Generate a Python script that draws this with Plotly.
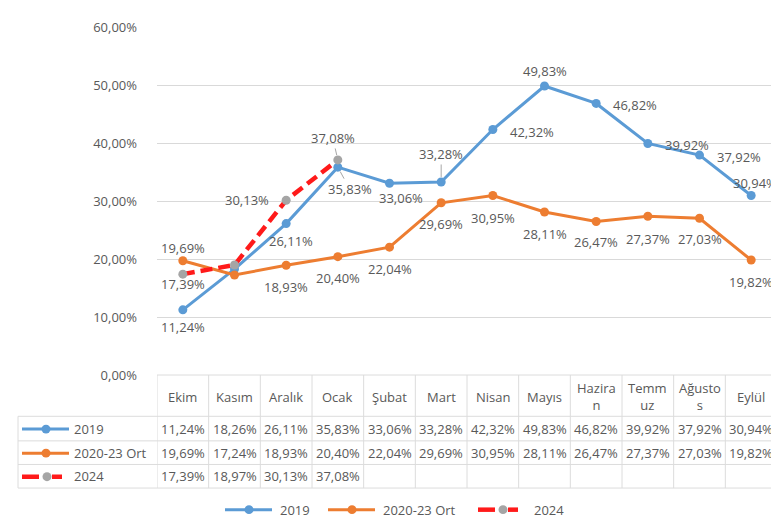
import plotly.graph_objects as go

# ---------------- data ----------------
months = ["Ekim", "Kasım", "Aralık", "Ocak", "Şubat", "Mart", "Nisan",
          "Mayıs", "Haziran", "Temmuz", "Ağustos", "Eylül"]
header_labels = ["Ekim", "Kasım", "Aralık", "Ocak", "Şubat", "Mart", "Nisan",
                 "Mayıs", "Hazira<br>n", "Temm<br>uz", "Ağusto<br>s", "Eylül"]
s2019 = [11.24, 18.26, 26.11, 35.83, 33.06, 33.28, 42.32, 49.83, 46.82, 39.92, 37.92, 30.94]
s2020_23 = [19.69, 17.24, 18.93, 20.40, 22.04, 29.69, 30.95, 28.11, 26.47, 27.37, 27.03, 19.82]
s2024 = [17.39, 18.97, 30.13, 37.08]
series_names = ["2019", "2020-23 Ort", "2024"]
y_ticks = [0, 10, 20, 30, 40, 50, 60]

# ---------------- styles ----------------
BLUE = "#5b9bd5"
ORANGE = "#ed7d31"
RED = "#ff1a1a"
GREY_MK = "#a5a5a5"
TXT = "#595959"
GRID = "#d9d9d9"
FONT = "Open Sans"
FS = 13

W, H = 779, 525
PL, PR = 149, 769     # plot area left/right px
PT, PB = 13, 367      # plot area top/bottom px


def xp(px):
    return (px - PL) / (PR - PL)


def yp(py):
    return (PB - py) / (PB - PT)


def fmt(v):
    return f"{v:.2f}%".replace(".", ",")


fig = go.Figure()
idx = list(range(len(months)))
fig.add_trace(go.Scatter(x=idx, y=s2019, mode="lines+markers", name=series_names[0],
                         line=dict(color=BLUE, width=3), marker=dict(size=9, color=BLUE),
                         cliponaxis=False, showlegend=False))
fig.add_trace(go.Scatter(x=idx, y=s2020_23, mode="lines+markers", name=series_names[1],
                         line=dict(color=ORANGE, width=3), marker=dict(size=9, color=ORANGE),
                         cliponaxis=False, showlegend=False))
fig.add_trace(go.Scatter(x=idx[:len(s2024)], y=s2024, mode="lines+markers", name=series_names[2],
                         line=dict(color=RED, width=4.5, dash="12px,6px"),
                         marker=dict(size=9, color=GREY_MK),
                         cliponaxis=False, showlegend=False))

annotations = []

# data label offsets (dx px right, dy px down); None = no label; "a" = leader line
off2019 = [(0, 17), None, (5, 17), ("a", 12, 22), (11, 15), ("a", 0, -28), (39, 2),
           (0, -15), (39, 2), (39, 2), (39, 2), (4, -13)]
off2020 = [(0, -13), None, (0, 22), (0, 21), (0, 22), (0, 21), (0, 23), (0, 22),
           (0, 21), (0, 23), (0, 21), (0, 22)]
off2024 = [(0, 10), None, (-39, 0), ("a", -5, -22)]

for vals, offs in ((s2019, off2019), (s2020_23, off2020), (s2024, off2024)):
    for i, (v, o) in enumerate(zip(vals, offs)):
        if o is None:
            continue
        if o[0] == "a":
            annotations.append(dict(x=i, y=v, xref="x", yref="y", text=fmt(v), showarrow=True,
                                    ax=o[1], ay=o[2], arrowhead=0, arrowwidth=1,
                                    arrowcolor="#a6a6a6", standoff=5,
                                    font=dict(family=FONT, size=FS, color=TXT)))
        else:
            annotations.append(dict(x=i, y=v, xref="x", yref="y", text=fmt(v), showarrow=False,
                                    xshift=o[0], yshift=-o[1],
                                    font=dict(family=FONT, size=FS, color=TXT)))

# ---------------- data table ----------------
shapes = []
row_lines = [367, 409, 434, 458, 482]
line_style = dict(color="#dcdcdc", width=1)
TL = 10  # table left px
shapes.append(dict(type="line", xref="paper", yref="paper", x0=0, x1=1,
                   y0=yp(row_lines[0]), y1=yp(row_lines[0]), line=line_style, layer="below"))
for r in row_lines[1:]:
    shapes.append(dict(type="line", xref="paper", yref="paper", x0=xp(TL), x1=1,
                       y0=yp(r), y1=yp(r), line=line_style))
shapes.append(dict(type="line", xref="paper", yref="paper", x0=xp(TL), x1=xp(TL),
                   y0=yp(row_lines[1]), y1=yp(row_lines[-1]), line=line_style))
for k in range(len(months) + 1):
    shapes.append(dict(type="line", xref="x", yref="paper", x0=k - 0.5, x1=k - 0.5,
                       y0=yp(row_lines[0]), y1=yp(row_lines[-1]), line=line_style))

hdr_c = (row_lines[0] + row_lines[1]) / 2
for i, lab in enumerate(header_labels):
    annotations.append(dict(x=i, y=yp(hdr_c + 1), xref="x", yref="paper", text=lab,
                            showarrow=False, font=dict(family=FONT, size=FS, color=TXT),
                            yanchor="middle"))

row_c = [(row_lines[j] + row_lines[j + 1]) / 2 for j in (1, 2, 3)]
for j, vals in enumerate((s2019, s2020_23, s2024)):
    for i, v in enumerate(vals):
        annotations.append(dict(x=i, y=yp(row_c[j]), xref="x", yref="paper", text=fmt(v),
                                showarrow=False, font=dict(family=FONT, size=FS, color=TXT),
                                yanchor="middle"))
    annotations.append(dict(x=xp(64), y=yp(row_c[j]), xref="paper", yref="paper",
                            text=series_names[j], showarrow=False, xanchor="left",
                            yanchor="middle", font=dict(family=FONT, size=FS, color=TXT)))


def circle(cx, cy, color, r=4.5):
    return dict(type="circle", xref="paper", yref="paper",
                x0=xp(cx - r), x1=xp(cx + r), y0=yp(cy + r), y1=yp(cy - r),
                fillcolor=color, line=dict(width=0))


def seg(xa, xb, y, color, width):
    return dict(type="line", xref="paper", yref="paper", x0=xp(xa), x1=xp(xb),
                y0=yp(y), y1=yp(y), line=dict(color=color, width=width))


def legend_symbol(kind, x0, y):
    out = []
    if kind == 0:
        out += [seg(x0, x0 + 47, y, BLUE, 3), circle(x0 + 24, y, BLUE)]
    elif kind == 1:
        out += [seg(x0, x0 + 47, y, ORANGE, 3), circle(x0 + 24, y, ORANGE)]
    else:
        out += [seg(x0, x0 + 17, y, RED, 4.5), seg(x0 + 30, x0 + 40, y, RED, 4.5),
                circle(x0 + 25, y, GREY_MK)]
    return out


for j in range(3):
    shapes += legend_symbol(j, 14, row_c[j] + 0.5)

# bottom legend
LEG_Y = 504
leg_x = [217, 320, 470]
leg_tx = [270, 373, 524]
for j in range(3):
    shapes += legend_symbol(j, leg_x[j], LEG_Y)
    annotations.append(dict(x=xp(leg_tx[j]), y=yp(LEG_Y), xref="paper", yref="paper",
                            text=series_names[j], showarrow=False, xanchor="left",
                            yanchor="middle", font=dict(family=FONT, size=FS, color=TXT)))

fig.update_layout(
    width=W, height=H,
    margin=dict(l=PL, r=W - PR, t=PT, b=H - PB, pad=0),
    paper_bgcolor="white", plot_bgcolor="white",
    separators=",.",
    font=dict(family=FONT, size=FS, color=TXT),
    xaxis=dict(range=[-0.5, len(months) - 0.5], showticklabels=False, showgrid=False,
               zeroline=False, showline=False, ticks=""),
    yaxis=dict(range=[0, 60], tickvals=y_ticks, ticktext=[fmt(t) for t in y_ticks],
               showgrid=True, gridcolor=GRID, gridwidth=1, zeroline=False, showline=False,
               ticks="", ticklabelstandoff=19,
               tickfont=dict(family=FONT, size=FS, color=TXT)),
    annotations=annotations,
    shapes=shapes,
    showlegend=False,
)

fig.write_html("out.html")
